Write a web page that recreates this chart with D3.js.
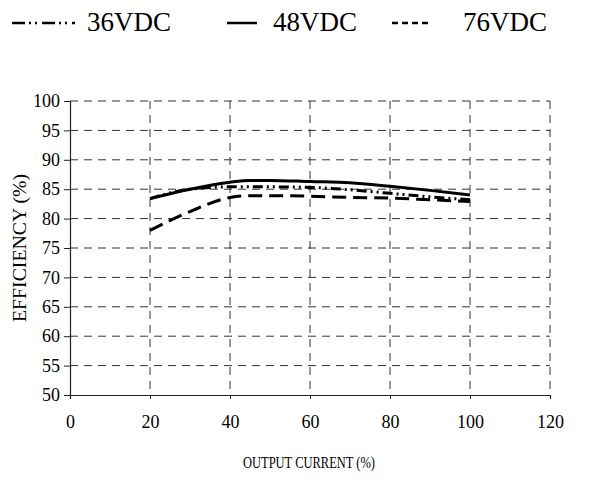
<!DOCTYPE html>
<html>
<head>
<meta charset="utf-8">
<script src="https://cdn.jsdelivr.net/npm/d3@7"></script>
<style>
  body { margin: 0; background: #fff; }
  svg text { font-family: "Liberation Serif", "DejaVu Serif", serif; fill: #000; }
</style>
</head>
<body>
<div id="chart"></div>
<script>
// data
const current = [20, 30, 40, 45, 50, 60, 70, 80, 90, 100];
const eff36 = [83.4, 85.0, 85.4, 85.4, 85.4, 85.3, 84.9, 84.3, 83.7, 83.2];
const eff48 = [83.4, 85.0, 86.2, 86.5, 86.5, 86.3, 86.1, 85.5, 84.8, 84.0];
const eff76 = [78.0, 81.2, 83.6, 83.9, 83.9, 83.8, 83.6, 83.5, 83.2, 82.9];
const xTicks = [0, 20, 40, 60, 80, 100, 120];
const yTicks = [50, 55, 60, 65, 70, 75, 80, 85, 90, 95, 100];
const seriesNames = ["36VDC", "48VDC", "76VDC"];

const width = 606, height = 486;
const margin = {top: 101, right: 56, bottom: 91, left: 70};
const innerW = width - margin.left - margin.right;
const innerH = height - margin.top - margin.bottom;
const serif = "'Liberation Serif', 'DejaVu Serif', serif";

const svg = d3.select("#chart").append("svg")
    .attr("width", width).attr("height", height);
const g = svg.append("g").attr("transform", `translate(${margin.left},${margin.top})`);

const x = d3.scaleLinear().domain([0, 120]).range([0, innerW]);
const y = d3.scaleLinear().domain([50, 100]).range([innerH, 0]);

// dashed grid
g.selectAll(".hgrid").data(yTicks.filter(v => v > 50)).enter().append("line")
    .attr("x1", 0).attr("x2", innerW)
    .attr("y1", d => y(d)).attr("y2", d => y(d))
    .attr("stroke", "#333").attr("stroke-width", 1).attr("stroke-dasharray", "8,6");
g.selectAll(".vgrid").data(xTicks.filter(v => v > 0)).enter().append("line")
    .attr("y1", 0).attr("y2", innerH)
    .attr("x1", d => x(d)).attr("x2", d => x(d))
    .attr("stroke", "#333").attr("stroke-width", 1).attr("stroke-dasharray", "8,6");

// axes
const yAxis = g.append("g")
    .call(d3.axisLeft(y).tickValues(yTicks).tickSize(6).tickPadding(4));
const xAxis = g.append("g").attr("transform", `translate(0,${innerH})`)
    .call(d3.axisBottom(x).tickValues(xTicks).tickSize(4).tickPadding(16));
[yAxis, xAxis].forEach(ax => {
    ax.attr("font-family", serif).attr("font-size", 18);
    ax.select(".domain").attr("stroke", "#222").attr("stroke-width", 1.2);
    ax.selectAll(".tick line").attr("stroke", "#222");
    ax.selectAll("text").attr("fill", "#000");
});

// axis titles
svg.append("text")
    .attr("transform", `translate(26,${margin.top + innerH / 2}) rotate(-90)`)
    .attr("text-anchor", "middle")
    .attr("textLength", 148).attr("lengthAdjust", "spacingAndGlyphs")
    .style("font-size", "18px")
    .text("EFFICIENCY (%)");
svg.append("text")
    .attr("x", 309).attr("y", 468)
    .attr("text-anchor", "middle")
    .attr("textLength", 132).attr("lengthAdjust", "spacingAndGlyphs")
    .style("font-size", "16px")
    .text("OUTPUT CURRENT (%)");

// series
const series = [
    {name: seriesNames[0], values: eff36, dash: "10,4,2,4,2,4"},
    {name: seriesNames[1], values: eff48, dash: null},
    {name: seriesNames[2], values: eff76, dash: "14,7"}
];
const line = d3.line()
    .x(d => x(d[0])).y(d => y(d[1]))
    .curve(d3.curveMonotoneX);

series.forEach(s => {
    g.append("path")
        .datum(current.map((c, i) => [c, s.values[i]]))
        .attr("fill", "none")
        .attr("stroke", "#000")
        .attr("stroke-width", 3)
        .attr("stroke-dasharray", s.dash)
        .attr("d", line);
});

// legend
const legendItems = [
    {x0: 12, x1: 75, tx: 87, dash: "13,4,2,4,2,5"},
    {x0: 227, x1: 257, tx: 273, dash: null},
    {x0: 392, x1: 430, tx: 463, dash: "6,4"}
];
legendItems.forEach((it, i) => {
    svg.append("line")
        .attr("x1", it.x0).attr("x2", it.x1).attr("y1", 23).attr("y2", 23)
        .attr("stroke", "#000").attr("stroke-width", 2.5)
        .attr("stroke-dasharray", it.dash);
    svg.append("text")
        .attr("x", it.tx).attr("y", 31)
        .style("font-size", "27px")
        .text(seriesNames[i]);
});
</script>
</body>
</html>
